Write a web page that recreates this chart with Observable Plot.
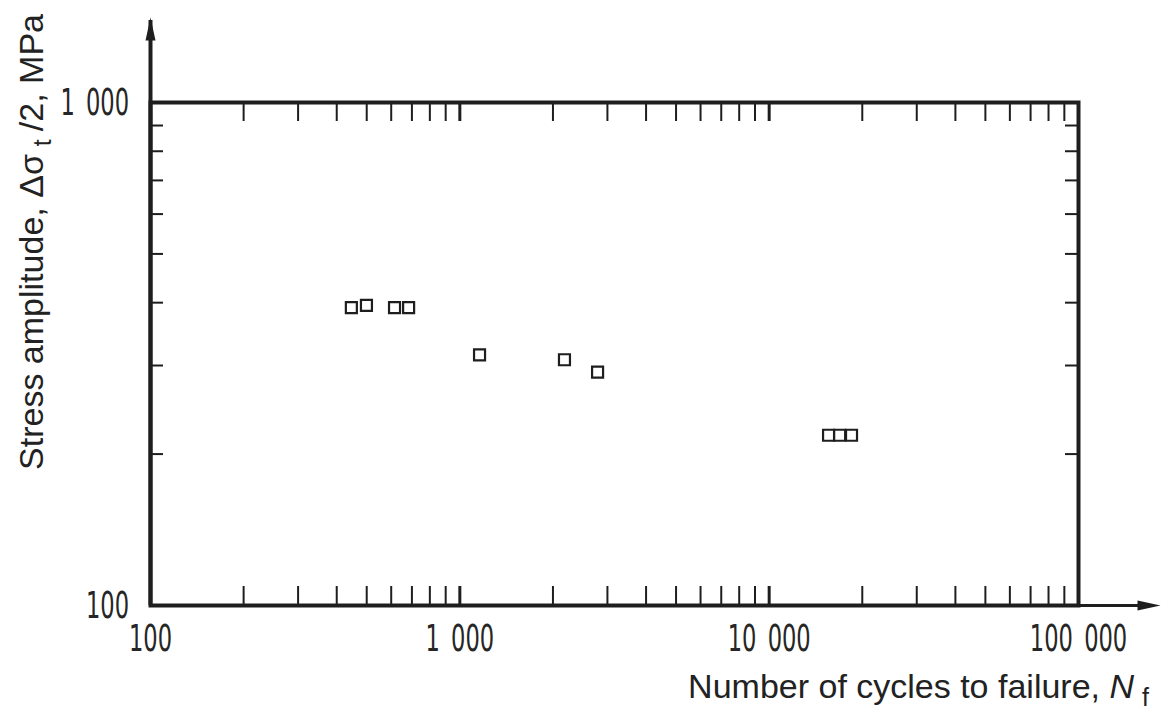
<!DOCTYPE html>
<html><head><meta charset="utf-8">
<script src="https://cdn.jsdelivr.net/npm/d3@7"></script>
<script src="https://cdn.jsdelivr.net/npm/@observablehq/plot@0.6"></script>
<style>
body{margin:0;background:#fff;}
#chart svg{display:block;}
</style>
</head><body><div id="chart"></div>
<script>
// Data
const cycles = [446, 499, 615, 683, 1158, 2179, 2788, 15560, 16900, 18460];
const stress = [391, 395, 391, 391, 315, 308, 291, 218, 218, 218];

// Axis tick values
const xTickLabels = [100, 1000, 10000, 100000];
const yTickLabels = [100, 1000];
const xMajorTicks = [1000, 10000];
const xMinorTicks = [200, 300, 400, 500, 600, 700, 800, 900,
                     2000, 3000, 4000, 5000, 6000, 7000, 8000, 9000,
                     20000, 30000, 40000, 50000, 60000, 70000, 80000, 90000];
const yMinorTicks = [200, 300, 400, 500, 600, 700, 800, 900];

const xTitle = "Number of cycles to failure, ";
const yTitleA = "Stress amplitude, Δσ";
const yTitleB = "/2, MPa";

const data = cycles.map((c, i) => ({cycles: c, stress: stress[i]}));

const W = 1161, H = 711;
const mL = 150, mR = 83, mT = 102, mB = 106;
const innerW = W - mL - mR, innerH = H - mT - mB;
const ink = "#1e1e1e";
const fmt = d => d3.format(",")(d).replace(/,/g, "\u2002");
const tickFont = "'Liberation Sans Narrow', 'DejaVu Sans Condensed', 'Arial Narrow', sans-serif";
const titleFont = "'Liberation Sans', Arial, Helvetica, sans-serif";
const squeeze = 0.66;
const yLabelDx = -16;

const arrowHead = {draw(ctx) { ctx.moveTo(0, -12); ctx.lineTo(5, 11); ctx.lineTo(-5, 11); ctx.closePath(); }};

const chart = Plot.plot({
  width: W, height: H,
  marginLeft: mL, marginRight: mR, marginTop: mT, marginBottom: mB,
  x: {type: "log", domain: [xTickLabels[0], xTickLabels[xTickLabels.length - 1]], axis: null},
  y: {type: "log", domain: [yTickLabels[0], yTickLabels[1]], axis: null},
  style: {background: "white"},
  marks: [
    Plot.ruleX(xMinorTicks, {x: d => d, insetTop: innerH - 19, stroke: ink, strokeWidth: 2}),
    Plot.ruleX(xMinorTicks, {x: d => d, insetBottom: innerH - 19, stroke: ink, strokeWidth: 2}),
    Plot.ruleX(xMajorTicks, {x: d => d, insetTop: innerH - 19, stroke: ink, strokeWidth: 3}),
    Plot.ruleX(xMajorTicks, {x: d => d, insetBottom: innerH - 19, stroke: ink, strokeWidth: 3}),
    Plot.ruleY(yMinorTicks, {y: d => d, insetRight: innerW - 13, stroke: ink, strokeWidth: 2}),
    Plot.ruleY(yMinorTicks, {y: d => d, insetLeft: innerW - 13, stroke: ink, strokeWidth: 2}),
    Plot.frame({stroke: ink, strokeWidth: 4}),
    Plot.ruleX([xTickLabels[0]], {x: d => d, insetTop: -82, stroke: ink, strokeWidth: 4}),
    Plot.ruleY([yTickLabels[0]], {y: d => d, insetRight: -68, stroke: ink, strokeWidth: 3}),
    Plot.dot([0], {frameAnchor: "top-left", dy: -73, symbol: arrowHead, fill: ink, stroke: "none", r: 1}),
    Plot.dot([0], {frameAnchor: "bottom-right", dx: 70, symbol: arrowHead, rotate: 90, fill: ink, stroke: "none", r: 1}),
    Plot.dot(data, {x: "cycles", y: "stress", symbol: "square", r: 6.2, stroke: ink, strokeWidth: 2.2, fill: "white"}),
    Plot.text(xTickLabels, {x: d => d, frameAnchor: "bottom", dy: 45, text: fmt, fontSize: 38, fontFamily: tickFont, fill: "#262626", className: "ticklab-x"}),
    Plot.text(yTickLabels, {y: d => d, frameAnchor: "left", dx: yLabelDx, textAnchor: "end", text: fmt, fontSize: 38, fontFamily: tickFont, fill: "#262626", className: "ticklab-y"})
  ]
});

document.getElementById("chart").appendChild(chart);

// Condense tick labels horizontally about their anchor (narrow drawing digits)
const xs = chart.scale("x");
function squeezeAbout(el, ax) {
  const g = document.createElementNS("http://www.w3.org/2000/svg", "g");
  g.setAttribute("transform", `translate(${ax},0) scale(${squeeze},1) translate(${-ax},0)`);
  el.parentNode.insertBefore(g, el);
  g.appendChild(el);
}
d3.select(chart).selectAll(".ticklab-x text").nodes().forEach((el, i) => squeezeAbout(el, xs.apply(xTickLabels[i])));
d3.select(chart).selectAll(".ticklab-y text").nodes().forEach(el => squeezeAbout(el, mL + yLabelDx));

// Axis titles (rich text with subscripts)
const svg = d3.select(chart);
const xt = svg.append("text")
  .attr("x", W - 12).attr("y", H - 13)
  .attr("text-anchor", "end")
  .attr("font-family", titleFont).attr("font-size", 34).attr("fill", "#222");
xt.append("tspan").text(xTitle);
xt.append("tspan").attr("font-style", "italic").text("N");
xt.append("tspan").attr("font-size", 25).attr("dx", 8).attr("dy", 8).text("f");

const yt = svg.append("text")
  .attr("transform", `translate(43, 14) rotate(-90)`)
  .attr("text-anchor", "end")
  .attr("font-family", titleFont).attr("font-size", 34).attr("fill", "#222");
yt.append("tspan").text(yTitleA);
yt.append("tspan").attr("font-size", 25).attr("dx", 8).attr("dy", 8).text("t");
yt.append("tspan").attr("dx", 8).attr("dy", -8).text(yTitleB);
</script>
</body></html>
